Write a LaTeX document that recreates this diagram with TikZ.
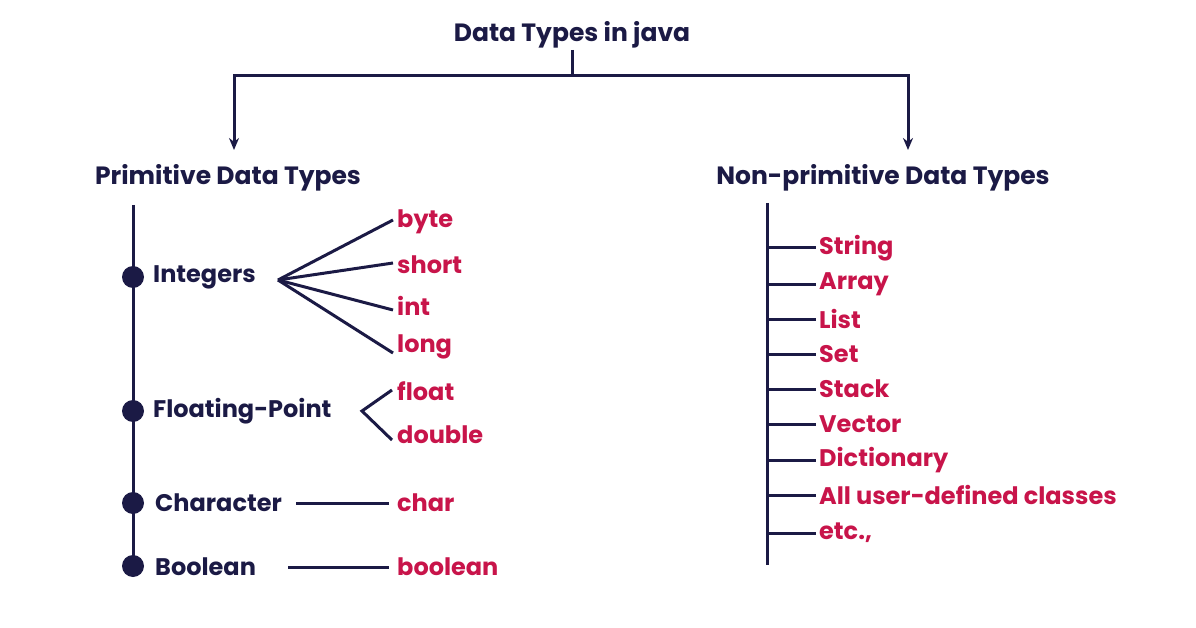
\documentclass[tikz,border=0pt]{standalone}
\usepackage{fontspec}
\setmainfont{Poppins}
\usetikzlibrary{arrows.meta}
\definecolor{navy}{HTML}{1B1A45}
\definecolor{jred}{HTML}{C8144A}
\begin{document}
\begin{tikzpicture}[x=1pt,y=-1pt,
  ln/.style={navy,line width=3pt},
  head/.style={navy,font=\fontsize{25}{29}\selectfont\bfseries},
  cat/.style={navy,anchor=west,inner sep=0pt,font=\fontsize{24}{28}\selectfont\bfseries},
  ty/.style={jred,anchor=west,inner sep=0pt,font=\fontsize{24}{28}\selectfont\bfseries},
  dot/.style={circle,fill=navy,minimum size=22pt,inner sep=0pt}]
\useasboundingbox (0,0) rectangle (1196,628);
\fill[white] (0,0) rectangle (1196,628);
\node[head] (root) at (572,35) {Data Types in java};
\node[head] (prim) at (228,178) {Primitive Data Types};
\node[head] (nonp) at (883,178) {Non-primitive Data Types};
\coordinate (s0) at (572,50);
\coordinate (s1) at (572,76);
\coordinate (l) at (234,76);
\coordinate (r) at (908,76);
\coordinate (la) at (234,150);
\coordinate (ra) at (908,150);
\draw[ln] (s0) -- (s1);
\draw[ln,-{Stealth[length=12pt,width=10pt]}] (s1) -- (l) -- (la);
\draw[ln,-{Stealth[length=12pt,width=10pt]}] (s1) -- (r) -- (ra);
\coordinate (lt) at (133,205);
\coordinate (lb) at (133,568);
\draw[ln] (lt) -- (lb);
\node[dot] (d1) at (133,277) {};
\node[dot] (d2) at (133,411) {};
\node[dot] (d3) at (133,503) {};
\node[dot] (d4) at (133,566) {};
\node[cat] (int) at (153,277) {Integers};
\node[cat] (flt) at (153,411) {Floating-Point};
\node[cat] (chr) at (155,503) {Character};
\node[cat] (boo) at (155,567) {Boolean};
\node[ty] (byte) at (397,222) {byte};
\node[ty] (short) at (397,265) {short};
\node[ty] (i) at (397,306) {int};
\node[ty] (long) at (397,347) {long};
\node[ty] (float) at (397,391) {float};
\node[ty] (double) at (397,435) {double};
\node[ty] (char) at (397,503) {char};
\node[ty] (bool) at (397,567) {boolean};
\coordinate (fi) at (278,280);
\draw[ln] (fi) -- ([xshift=-4pt,yshift=2pt]byte.west);
\draw[ln] (fi) -- ([xshift=-4pt,yshift=2pt]short.west);
\draw[ln] (fi) -- ([xshift=-4pt,yshift=-4pt]i.west);
\draw[ln] (fi) -- ([xshift=-4pt,yshift=-6pt]long.west);
\coordinate (ff) at (362,411);
\draw[ln] ([xshift=-5pt,yshift=1pt]float.west) -- (ff) -- ([xshift=-5pt,yshift=-5pt]double.west);
\draw[ln] (296,503) -- ([xshift=-8pt]char.west);
\draw[ln] (288,567) -- ([xshift=-8pt]bool.west);
\coordinate (rt) at (767,203);
\coordinate (rb) at (767,565);
\draw[ln] (rt) -- (rb);
\foreach \n/\t/\y in {a/String/248,b/Array/284,c/List/319,d/Set/354,e/Stack/389,f/Vector/424,g/Dictionary/460,h/All user-defined classes/495,k/{etc.,}/533}{
  \node[ty] (n\n) at (819,\y) {\t};
  \draw[ln] (767,\y) -- ([xshift=-3pt]n\n.west);
}
\end{tikzpicture}
\end{document}
